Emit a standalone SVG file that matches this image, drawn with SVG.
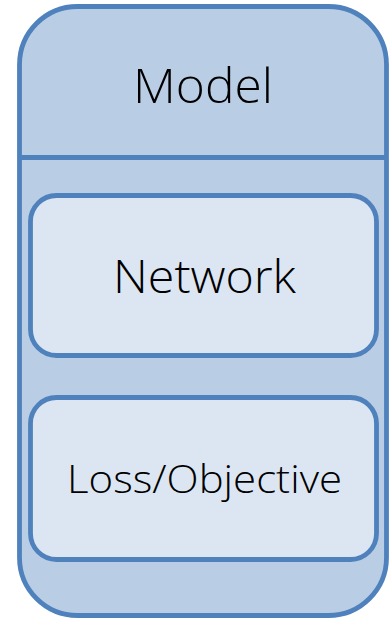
<svg xmlns="http://www.w3.org/2000/svg" width="390" height="620" viewBox="0 0 390 620">
<style>
.outer{fill:#b9cde5;stroke:#4f81bd;stroke-width:4.8}
.inner{fill:#dce6f2;stroke:#4f81bd;stroke-width:4.8}
.lbl{font-family:"Open Sans","Liberation Sans",sans-serif;font-weight:300;fill:#000;text-anchor:middle}
</style>
<g id="model">
<rect class="outer" x="19.5" y="6.5" width="367" height="609" rx="58" ry="58"/>
<line x1="19.5" y1="157.5" x2="386.5" y2="157.5" stroke="#4f81bd" stroke-width="4.8"/>
<text class="lbl" x="203" y="103" font-size="47" textLength="140" lengthAdjust="spacingAndGlyphs">Model</text>
</g>
<g id="network">
<rect class="inner" x="30.5" y="195.5" width="346" height="160" rx="26" ry="26"/>
<text class="lbl" x="204.5" y="292.5" font-size="46" textLength="183" lengthAdjust="spacingAndGlyphs">Network</text>
</g>
<g id="loss">
<rect class="inner" x="30.5" y="397.5" width="346" height="162" rx="26" ry="26"/>
<text class="lbl" x="204.5" y="493" font-size="39" textLength="275" lengthAdjust="spacingAndGlyphs">Loss/Objective</text>
</g>
<g id="connectors"/>
</svg>
